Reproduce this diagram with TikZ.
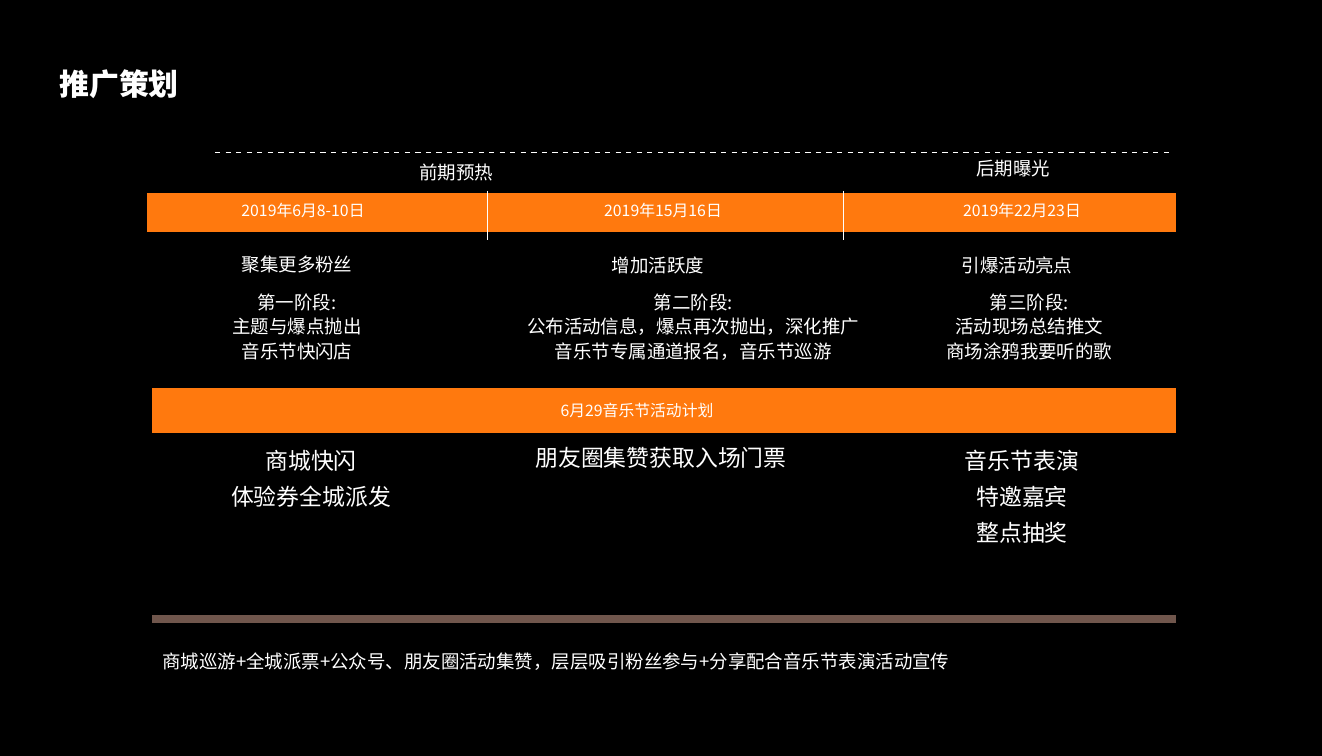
\documentclass[tikz,border=0pt]{standalone}
\usepackage{fontspec}
\setmainfont{Noto Sans CJK SC}
\definecolor{PlanOrange}{RGB}{255,121,14}
\definecolor{PlanBrown}{RGB}{112,86,76}
\usetikzlibrary{positioning}

\begin{document}
\begin{tikzpicture}[x=0.02cm,y=-0.02cm
      , txt/.style={text=white, font=\fontsize{10.5}{14}\selectfont, inner sep=0pt, align=center}
      , bartxt/.style={text=white, font=\fontsize{9}{11}\selectfont, inner sep=0pt}
      , bigtxt/.style={text=white, font=\fontsize{13}{16}\selectfont, inner sep=0pt}
      ]
      \fill[black] (0,0) rectangle (1322,756);
      \useasboundingbox (0,0) rectangle (1322,756);

      \node[text=white, font=\fontsize{17}{20}\selectfont\bfseries, anchor=west, inner sep=0pt] (title) at (59,84) {推广策划};

      % phases
      \draw[white, dashed, thin] (215,152) -- (1170,152);
      \node[txt] (pre) at (456,172) {前期预热};
      \node[txt] (post) at (1013,169) {后期曝光};

      % timeline bar
      \fill[PlanOrange] (147,193) rectangle (1176,232);
      \draw[white, thin] (487,191) -- (487,240);
      \draw[white, thin] (843,191) -- (843,240);
      \node[bartxt] (d1) at (303,210) {2019年6月8-10日};
      \node[bartxt] (d2) at (663,210) {2019年15月16日};
      \node[bartxt] (d3) at (1022,210) {2019年22月23日};

      \node[txt] (g1) at (297,265) {聚集更多粉丝};
      \node[txt] (g2) at (658,265) {增加活跃度};
      \node[txt] (g3) at (1017,265) {引爆活动亮点};

      \node[txt, below=11pt of g1] (s1) {第一阶段:\\主题与爆点抛出\\音乐节快闪店};
      \node[txt, below=11pt of g2, xshift=20pt] (s2) {第二阶段:\\公布活动信息，爆点再次抛出，深化推广\\音乐节专属通道报名，音乐节巡游};
      \node[txt, below=11pt of g3, xshift=7pt] (s3) {第三阶段:\\活动现场总结推文\\商场涂鸦我要听的歌};

      % plan bar
      \fill[PlanOrange] (152,388) rectangle (1176,433);
      \node[bartxt] (plan) at (637,410) {6月29音乐节活动计划};

      \node[bigtxt] (a1) at (311,461) {商城快闪};
      \node[bigtxt] (a2) at (311,497) {体验券全城派发};
      \node[bigtxt] (b1) at (661,458) {朋友圈集赞获取入场门票};
      \node[bigtxt] (c1) at (1022,461) {音乐节表演};
      \node[bigtxt] (c2) at (1022,497) {特邀嘉宾};
      \node[bigtxt] (c3) at (1022,533) {整点抽奖};

      \fill[PlanBrown] (152,615) rectangle (1176,623);
      \node[txt, anchor=west] (summary) at (162,662) {商城巡游+全城派票+公众号、朋友圈活动集赞，层层吸引粉丝参与+分享配合音乐节表演活动宣传};
    \end{tikzpicture}
\end{document}
